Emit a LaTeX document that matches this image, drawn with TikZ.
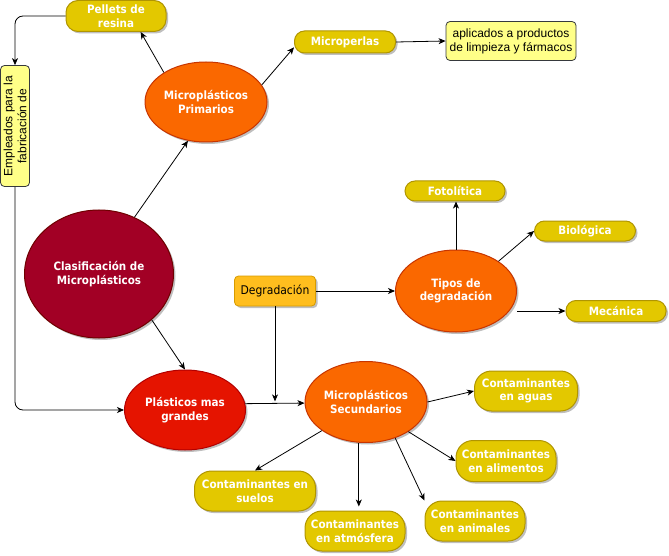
\documentclass[tikz,border=0pt]{standalone}
\usepackage{fontspec}
\setmainfont{Liberation Sans}
\newfontfamily\tah{DejaVu Sans Condensed}
\usetikzlibrary{shapes.geometric,arrows.meta,shadows,calc}
\definecolor{pillf}{HTML}{E3C800}
\definecolor{pillb}{HTML}{B09500}
\definecolor{orgf}{HTML}{FA6800}
\definecolor{orgb}{HTML}{C73500}
\definecolor{redf}{HTML}{E51400}
\definecolor{redb}{HTML}{B20000}
\definecolor{wine}{HTML}{A20025}
\definecolor{wineb}{HTML}{6F0000}
\definecolor{degf}{HTML}{FFBE1E}
\definecolor{degb}{HTML}{D79B00}
\definecolor{notef}{HTML}{FFFF88}
\definecolor{noteb}{HTML}{36393D}
\tikzset{
  shd/.style={drop shadow={shadow xshift=2pt,shadow yshift=-2pt,opacity=0.25,fill=black}},
  boldtxt/.style={text=white,font=\tah\bfseries\fontsize{11.5}{13.5}\selectfont,align=center},
  ell/.style={ellipse,draw=#1,line width=1pt,inner sep=0pt,shd,boldtxt},
  pill/.style={rectangle,rounded corners=#1,draw=pillb,fill=pillf,line width=1pt,inner sep=0pt,shd,boldtxt},
  note/.style={rectangle,rounded corners=4pt,draw=noteb,fill=notef,line width=0.8pt,inner sep=0pt,
    font=\fontsize{12}{14}\selectfont,align=center,text=black},
  ar/.style={-{Stealth[length=7pt,width=6pt,inset=2pt]},line width=0.8pt,black},
  ln/.style={line width=0.8pt,black}
}
\begin{document}
\begin{tikzpicture}[x=1pt,y=-1pt]
\useasboundingbox (0,0) rectangle (669,556);
% nodes
\node[pill=12pt,minimum width=100pt,minimum height=31pt] (pellets) at (116,16) {Pellets de\\resina};
\node[ell=orgb,fill=orgf,minimum width=122pt,minimum height=80pt] (prim) at (206,102) {Microplásticos\\Primarios};
\node[pill=10pt,minimum width=101pt,minimum height=22pt] (mp) at (345,42) {Microperlas};
\node[note,minimum width=130pt,minimum height=39pt] (apl) at (511,41) {aplicados a productos\\de limpieza y fármacos};
\node[note,rotate=90,minimum width=121pt,minimum height=29pt] (emp) at (15,126) {Empleados para la\\fabricación de};
\node[ell=wineb,fill=wine,minimum width=149pt,minimum height=128pt] (clas) at (99,274) {Clasificación de\\Microplásticos};
\node[rectangle,rounded corners=4pt,draw=degb,fill=degf,line width=0.8pt,shd,minimum width=81pt,minimum height=30pt,
  font=\tah\fontsize{12}{14}\selectfont,text=black] (deg) at (275,291) {Degradación};
\node[ell=orgb,fill=orgf,minimum width=121pt,minimum height=82pt] (tipos) at (456,291) {Tipos de\\degradación};
\node[pill=10pt,minimum width=100pt,minimum height=20pt] (foto) at (455,191) {Fotolítica};
\node[pill=10pt,minimum width=101pt,minimum height=20pt] (bio) at (585,231) {Biológica};
\node[pill=10pt,minimum width=100pt,minimum height=21pt] (mec) at (616,311) {Mecánica};
\node[ell=redb,fill=redf,minimum width=121pt,minimum height=80pt] (plas) at (185,410) {Plásticos mas\\grandes};
\node[ell=orgb,fill=orgf,minimum width=122pt,minimum height=81pt] (sec) at (366,402) {Microplásticos\\Secundarios};
\node[pill=17pt,minimum width=103pt,minimum height=40pt] (aguas) at (526,391) {Contaminantes\\en aguas};
\node[pill=17pt,minimum width=100pt,minimum height=41pt] (alim) at (506,461) {Contaminantes\\en alimentos};
\node[pill=17pt,minimum width=121pt,minimum height=40pt] (suelos) at (255,491) {Contaminantes en\\suelos};
\node[pill=17pt,minimum width=100pt,minimum height=40pt] (atm) at (355,531) {Contaminantes\\en atmósfera};
\node[pill=17pt,minimum width=100pt,minimum height=40pt] (anim) at (475,521) {Contaminantes\\en animales};
% connectors
\draw[ar] (clas.58) -- (prim.-115);
\draw[ar] (prim.145) -- (pellets.-33);
\draw[ar] (prim.17) -- (mp.186);
\draw[ar] (mp.east) -- (apl.west);
\draw[ar,rounded corners=8pt] (pellets.west) -| (emp.east);
\draw[ar,rounded corners=8pt] (emp.west) |- (plas.west);
\draw[ar] (clas.-41) -- (plas.north);
\coordinate (j) at ($(plas.6)!0.5!(sec.181)$);
\draw[ar] (plas.6) -- (sec.181);
\draw[ar] (deg.east) -- (tipos.west);
\draw[ar] (deg.south) -- ($(deg.south |- j)+(0,-2)$);
\draw[ar] (tipos.north) -- (tipos.north |- foto.south);
\draw[ar] (tipos.35) -- (bio.west);
\draw[ar] (mec.west -| tipos.east) -- (mec.west);
\draw[ar] (sec.east) -- (aguas.west);
\draw[ar] (sec.-35) -- (alim.west);
\draw[ar] (sec.-51) -- (anim.north west);
\draw[ar] (sec.-100) -- ($(sec.-100 |- atm.north)+(0,-4)$);
\draw[ar] (sec.-147) -- (suelos.north);
\end{tikzpicture}
\end{document}
